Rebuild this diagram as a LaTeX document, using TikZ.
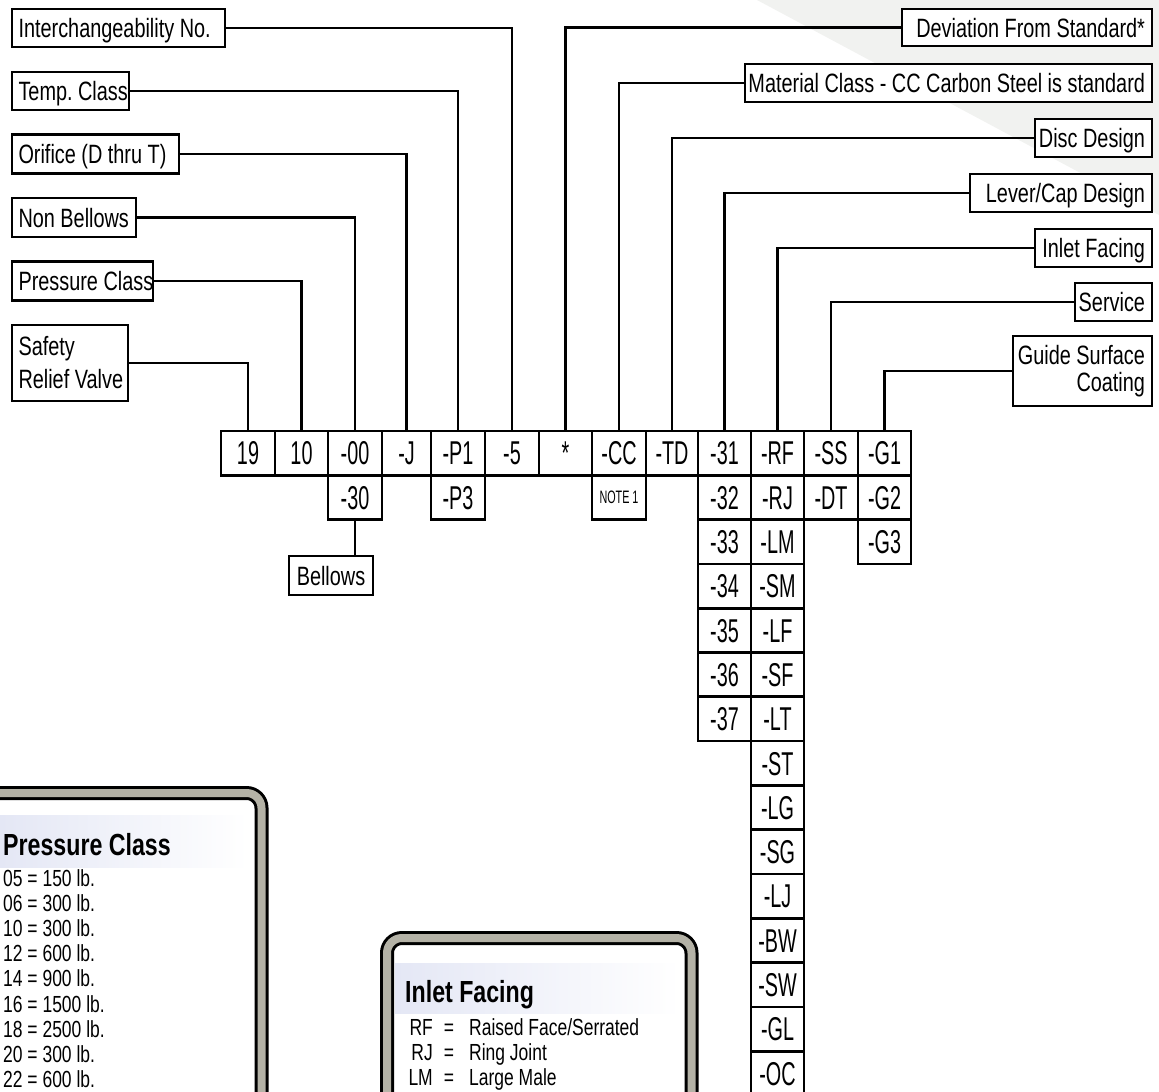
\documentclass[tikz,border=0pt]{standalone}
\usepackage{fontspec}
\setmainfont{Liberation Sans}
\newfontfamily\labfont{Liberation Sans}[FakeStretch=0.75]
\newfontfamily\cellfont{Liberation Sans}[FakeStretch=0.6]
\newfontfamily\legfont{Liberation Sans}[FakeStretch=0.75]
\newfontfamily\ttlfont{Liberation Sans}[FakeStretch=0.76]
\definecolor{bggray}{HTML}{F1F2F0}
\definecolor{framegray}{HTML}{B4B2A6}
\definecolor{bandcol}{HTML}{E4E7F5}
\frenchspacing
\begin{document}
\begin{tikzpicture}[x=1pt,y=-1pt,
  conn/.style={line width=2.7pt, line join=miter},
  labbase/.style={draw, fill=white, line width=2.7pt, inner sep=0pt,
    font=\labfont\fontsize{26.5}{30}\selectfont},
  lab/.style={labbase, text height=19pt, text depth=0pt},
  cell/.style={draw, line width=2.7pt, inner sep=0pt, minimum height=44.3pt,
    text height=23.6pt, text depth=0pt, font=\cellfont\fontsize{33}{36}\selectfont},
  leg/.style={inner sep=0pt, font=\legfont\fontsize{23.3}{27}\selectfont},
  ttl/.style={inner sep=0pt, font=\ttlfont\bfseries\fontsize{30.5}{34}\selectfont},
  frameout/.style={line width=14pt, rounded corners=15pt},
  framein/.style={framegray, line width=8pt, rounded corners=15pt}]
\useasboundingbox (0,0) rectangle (1159,1092);
\clip (0,0) rectangle (1159,1092);
\fill[bggray] (757,0) -- (1159,0) -- (1159,215) -- cycle;

% ---- left labels
\node[lab, minimum width=213pt, minimum height=38pt] (inter) at (118.5,28) {\makebox[200pt][l]{Interchangeability No.}};
\node[lab, minimum width=117pt, minimum height=38pt] (temp) at (70.5,91) {\makebox[104pt][l]{Temp. Class}};
\node[lab, minimum width=167pt, minimum height=39pt] (orif) at (95.5,154) {\makebox[154pt][l]{Orifice (D thru T)}};
\node[lab, minimum width=124pt, minimum height=39pt] (nonb) at (74,217.5) {\makebox[111pt][l]{Non Bellows}};
\node[lab, minimum width=141pt, minimum height=39pt] (press) at (82.5,281) {\makebox[128pt][l]{Pressure Class}};
\node[labbase, minimum width=116pt, minimum height=76pt, align=left,
  font=\labfont\fontsize{26.5}{33}\selectfont] (safety) at (70,363)
  {\makebox[103pt][l]{Safety}\\\makebox[103pt][l]{Relief Valve}};

% ---- right labels
\node[lab, minimum width=250pt, minimum height=37pt] (dev) at (1027,27.5) {\makebox[236pt][r]{Deviation From Standard*}};
\node[lab, minimum width=407pt, minimum height=38pt] (mat) at (948.5,83) {\makebox[393pt][r]{Material Class - CC Carbon Steel is standard}};
\node[lab, minimum width=117pt, minimum height=38pt] (disc) at (1093.5,138) {\makebox[103pt][r]{Disc Design}};
\node[lab, minimum width=182pt, minimum height=38pt] (lever) at (1061,193) {\makebox[168pt][r]{Lever/Cap Design}};
\node[lab, minimum width=117pt, minimum height=38pt] (inlet) at (1093.5,248) {\makebox[103pt][r]{Inlet Facing}};
\node[lab, minimum width=77pt, minimum height=38pt] (service) at (1113.5,302) {\makebox[63pt][r]{Service}};
\node[labbase, minimum width=139pt, minimum height=70pt, align=right,
  font=\labfont\fontsize{26.5}{27}\selectfont] (guide) at (1082.5,371)
  {\makebox[125pt][r]{Guide Surface}\\\makebox[125pt][r]{Coating}};

% ---- code cells, first row
\node[cell, minimum width=54pt] (c19) at (248,453.15) {19};
\node[cell, minimum width=53pt] (c10) at (301.5,453.15) {10};
\node[cell, minimum width=54pt] (c00) at (355,453.15) {-00};
\node[cell, minimum width=49pt] (cJ) at (406.5,453.15) {-J};
\node[cell, minimum width=54pt] (cP1) at (458,453.15) {-P1};
\node[cell, minimum width=54pt] (c5) at (512,453.15) {-5};
\node[cell, minimum width=53pt] (cstar) at (565.5,453.15) {*};
\node[cell, minimum width=54pt] (cCC) at (619,453.15) {-CC};
\node[cell, minimum width=52pt] (cTD) at (672,453.15) {-TD};

% ---- second row alternatives
\node[cell, minimum width=54pt] (c30) at (355,497.45) {-30};
\node[cell, minimum width=54pt] (cP3) at (458,497.45) {-P3};
\node[cell, minimum width=54pt, text height=13pt, font=\cellfont\fontsize{18}{20}\selectfont] (cnote) at (619,497.45) {NOTE 1};

% ---- columns
\foreach \t [count=\i from 0] in {-31,-32,-33,-34,-35,-36,-37}
  \node[cell, minimum width=53pt] (d\i) at (724.5,{453.15+44.3*\i}) {\t};
\foreach \t [count=\i from 0] in {-RF,-RJ,-LM,-SM,-LF,-SF,-LT,-ST,-LG,-SG,-LJ,-BW,-SW,-GL,-OC}
  \node[cell, minimum width=53pt] (r\i) at (777.5,{453.15+44.3*\i}) {\t};
\foreach \t [count=\i from 0] in {-SS,-DT}
  \node[cell, minimum width=54pt] (s\i) at (831,{453.15+44.3*\i}) {\t};
\foreach \t [count=\i from 0] in {-G1,-G2,-G3}
  \node[cell, minimum width=53pt] (g\i) at (884.5,{453.15+44.3*\i}) {\t};

% ---- bellows
\node[lab, minimum width=84pt, minimum height=39pt] (bell) at (331,575.5) {Bellows};
\draw[conn] (c30.south) -- (c30.south |- bell.north);

% ---- connectors
\draw[conn] (inter.east) -| (c5.north);
\draw[conn] (temp.east) -| (cP1.north);
\draw[conn] (orif.east) -| (cJ.north);
\draw[conn] (nonb.east) -| (c00.north);
\draw[conn] (press.east) -| (c10.north);
\draw[conn] (safety.east) -| (c19.north);
\draw[conn] (dev.west) -| (cstar.north);
\draw[conn] (mat.west) -| (cCC.north);
\draw[conn] (disc.west) -| (cTD.north);
\draw[conn] (lever.west) -| (d0.north);
\draw[conn] (inlet.west) -| (r0.north);
\draw[conn] (service.west) -| (s0.north);
\draw[conn] (guide.west) -| (g0.north);

% ---- Pressure Class legend
\draw[frameout] (-40,1300) -- (-40,793) -- (261.5,793) -- (261.5,1300);
\draw[framein] (-40,1300) -- (-40,793) -- (261.5,793) -- (261.5,1300);
\shade[left color=bandcol, right color=white] (0,815) rectangle (248,867);
\node[ttl, anchor=base west] (pctitle) at (3,855) {Pressure Class};
\foreach \t [count=\i from 0] in {05 = 150 lb.,06 = 300 lb.,10 = 300 lb.,12 = 600 lb.,14 = 900 lb.,16 = 1500 lb.,18 = 2500 lb.,20 = 300 lb.,22 = 600 lb.}
  \node[leg, anchor=base west] (pc\i) at (3,{886+25.2*\i}) {\t};

% ---- Inlet Facing legend
\draw[frameout] (387,1300) -- (387,938) -- (691.5,938) -- (691.5,1300);
\draw[framein] (387,1300) -- (387,938) -- (691.5,938) -- (691.5,1300);
\shade[left color=bandcol, right color=white] (395,963) rectangle (680,1013);
\node[ttl, anchor=base west] (iftitle) at (405,1002) {Inlet Facing};
\node[leg, anchor=base east] (ifa1) at (433,1035) {RF};
\node[leg, anchor=base] (ife1) at (449,1035) {=};
\node[leg, anchor=base west] (ifd1) at (469,1035) {Raised Face/Serrated};
\node[leg, anchor=base east] (ifa2) at (433,1060) {RJ};
\node[leg, anchor=base] (ife2) at (449,1060) {=};
\node[leg, anchor=base west] (ifd2) at (469,1060) {Ring Joint};
\node[leg, anchor=base east] (ifa3) at (433,1085) {LM};
\node[leg, anchor=base] (ife3) at (449,1085) {=};
\node[leg, anchor=base west] (ifd3) at (469,1085) {Large Male};
\end{tikzpicture}
\end{document}
